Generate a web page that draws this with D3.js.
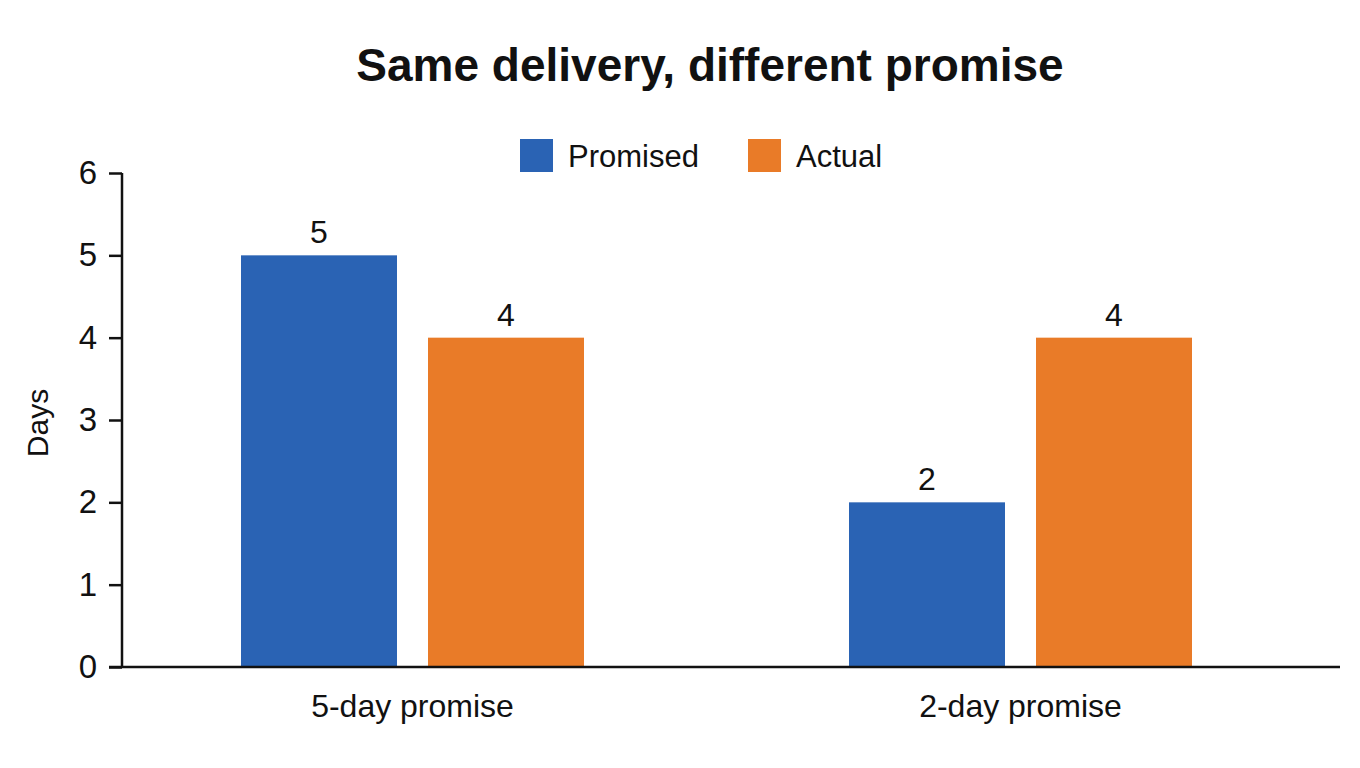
<!DOCTYPE html>
<html>
<head>
<meta charset="utf-8">
<script src="https://cdn.jsdelivr.net/npm/d3@7"></script>
<style>
  body { margin: 0; background: #fff; }
  svg { display: block; font-family: "Liberation Sans", Arial, sans-serif; }
  .axis path { stroke: #111; stroke-width: 2.5; }
  .axis line { stroke: #111; stroke-width: 2.5; }
  .axis text { font-size: 33px; fill: #111; }
</style>
</head>
<body>
<svg id="chart"></svg>
<script>
const categories = ['5-day promise', '2-day promise'];
const seriesNames = ['Promised', 'Actual'];
const promised = [5, 2];
const actual = [4, 4];
const yTicks = [0, 1, 2, 3, 4, 5, 6];
const colors = ['#2a63b4', '#e97b28'];

const width = 1360, height = 768;
const svg = d3.select('#chart').attr('width', width).attr('height', height);

const rows = categories.map((c, i) => ({
  category: c,
  values: [
    {key: seriesNames[0], value: promised[i]},
    {key: seriesNames[1], value: actual[i]}
  ]
}));

const axisX = 122;
const y = d3.scaleLinear().domain([0, 6]).range([667, 173]);

const x0 = d3.scaleBand().domain(categories).range([108.5, 1324.5]);
const groupWidth = 343;
const x1 = d3.scaleBand().domain(seriesNames).range([0, groupWidth]).paddingInner(31 / 187);
const color = d3.scaleOrdinal().domain(seriesNames).range(colors);

// title
svg.append('text')
  .attr('x', 710).attr('y', 81)
  .attr('text-anchor', 'middle')
  .style('font-size', '46px').style('font-weight', 'bold').style('fill', '#111')
  .text('Same delivery, different promise');

// legend
const legendX = [520, 748];
const legend = svg.selectAll('.legend')
  .data(seriesNames)
  .enter().append('g')
  .attr('class', 'legend')
  .attr('transform', (d, i) => `translate(${legendX[i]}, 139)`);
legend.append('rect')
  .attr('width', 33).attr('height', 33)
  .attr('fill', d => color(d));
legend.append('text')
  .attr('x', 48).attr('y', 28)
  .style('font-size', '31px').style('fill', '#111')
  .text(d => d);

// bars
const groups = svg.selectAll('.group')
  .data(rows)
  .enter().append('g')
  .attr('class', 'group')
  .attr('transform', d => `translate(${x0(d.category) + (x0.bandwidth() - groupWidth) / 2}, 0)`);

groups.selectAll('rect')
  .data(d => d.values)
  .enter().append('rect')
  .attr('x', d => x1(d.key))
  .attr('y', d => y(d.value))
  .attr('width', x1.bandwidth())
  .attr('height', d => y(0) - y(d.value))
  .attr('fill', d => color(d.key));

groups.selectAll('.value')
  .data(d => d.values)
  .enter().append('text')
  .attr('class', 'value')
  .attr('x', d => x1(d.key) + x1.bandwidth() / 2)
  .attr('y', d => y(d.value) - 12)
  .attr('text-anchor', 'middle')
  .style('font-size', '32px').style('fill', '#111')
  .text(d => d.value);

// y axis
const yAxis = svg.append('g')
  .attr('class', 'axis')
  .attr('transform', `translate(${axisX}, 0)`)
  .call(d3.axisLeft(y).tickValues(yTicks).tickSize(13).tickSizeOuter(0).tickPadding(12).tickFormat(d3.format('d')));
yAxis.select('.domain').remove();
yAxis.append('line')
  .attr('x1', 0).attr('x2', 0)
  .attr('y1', y(6)).attr('y2', y(0));

// x axis baseline
svg.append('line')
  .attr('x1', axisX - 13).attr('x2', 1340)
  .attr('y1', y(0)).attr('y2', y(0))
  .attr('stroke', '#111').attr('stroke-width', 2.5);

// category labels
svg.selectAll('.cat')
  .data(categories)
  .enter().append('text')
  .attr('class', 'cat')
  .attr('x', d => x0(d) + x0.bandwidth() / 2)
  .attr('y', 717)
  .attr('text-anchor', 'middle')
  .style('font-size', '32px').style('fill', '#111')
  .text(d => d);

// y axis title
svg.append('text')
  .attr('transform', 'translate(48, 423) rotate(-90)')
  .attr('text-anchor', 'middle')
  .style('font-size', '30px').style('fill', '#111')
  .text('Days');
</script>
</body>
</html>
